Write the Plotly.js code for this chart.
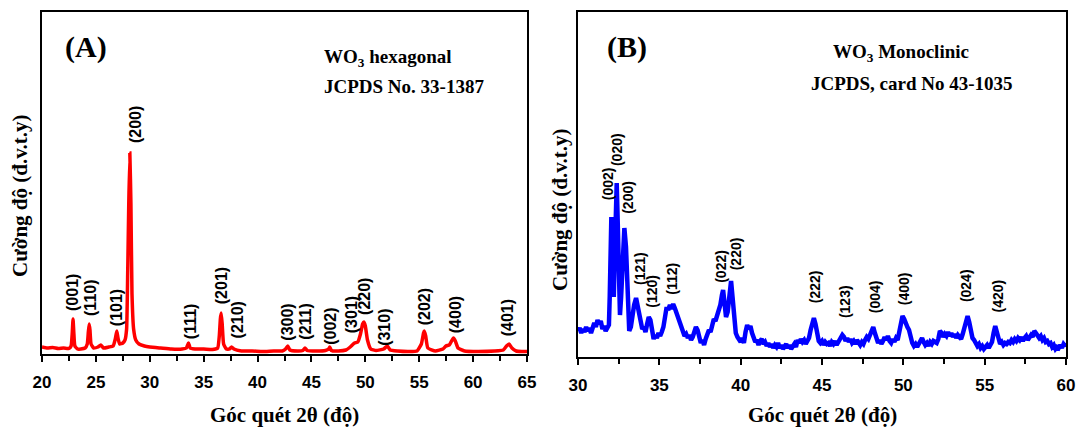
<!DOCTYPE html>
<html>
<head>
<meta charset="utf-8">
<script src="https://cdn.plot.ly/plotly-3.0.1.min.js"></script>
<style>html,body{margin:0;padding:0;background:#fff;}#chart{width:1081px;height:427px;}</style>
</head>
<body>
<div id="chart"></div>
<script>
// ---------- Panel A: WO3 hexagonal ----------
const twoThetaA = [20.0,20.5,21.0,21.5,22.0,22.5,22.7,22.8,22.88,22.95,23.05,23.3,23.6,24.0,24.2,24.3,24.38,24.45,24.55,24.8,25.2,25.45,25.7,26.2,26.6,26.8,26.94,27.05,27.2,27.5,27.7,27.85,27.95,28.05,28.15,28.25,28.35,28.5,28.7,29.0,29.5,30.0,31.0,32.0,33.0,33.4,33.59,33.75,34.2,35.0,35.8,36.3,36.45,36.55,36.63,36.72,36.85,37.1,37.4,37.59,37.8,38.5,39.5,40.5,41.5,42.3,42.6,42.8,43.0,43.7,44.2,44.4,44.6,45.5,46.3,46.6,46.7,46.85,47.5,48.2,48.6,49.0,49.3,49.55,49.75,49.87,50.0,50.2,50.5,51.0,51.7,52.04,52.3,53.0,54.0,54.8,55.2,55.4,55.47,55.6,55.8,56.5,57.2,57.48,57.8,58.0,58.18,58.35,58.6,59.2,60.5,62.0,62.8,63.1,63.33,63.6,64.0,64.5,65.0];
const intensityA = [7,6,6.5,5.5,6,5.5,8,20,35,22,8,5,5,6,10,22,30,24,10,6,7,9,6,7,8,15,23,16,10,11,14,25,80,150,201,150,60,25,14,10,8,7,6,5,5,6,11,6,5,5,4.5,6,18,35,41,30,10,5,5,7,5,3,3,2.5,3,3,5,8,4,3,3.5,6,3.5,3,3.5,5,7,3.5,3,4,7,11,12,20,30,32,28,14,5,3.5,5,8,4,3,2.5,3,10,21,23,18,6,3,5,8,9,13,16,13,6,3,2.5,3,4,8,10,6,3,2.5,2.5];
const hklA  = ["(001)","(110)","(101)","(200)","(111)","(201)","(210)","(300)","(211)","(002)","(301)","(220)","(310)","(202)","(400)","(401)"];
const hklAx = [22.78,24.45,26.88,28.63,33.75,36.63,38.13,42.7,44.37,46.7,48.69,49.87,51.72,55.47,58.34,63.17];
const hklAy = [62,56,46,229,33,68,34,32,32,28,39,58,27,47,39,36];

// ---------- Panel B: WO3 monoclinic ----------
const twoThetaB = [30.0,30.1,30.2,30.3,30.4,30.5,30.6,30.7,30.8,30.9,31.0,31.1,31.2,31.3,31.4,31.5,31.6,31.7,31.8,31.9,31.95,32.0,32.05,32.1,32.15,32.2,32.25,32.3,32.38,32.45,32.5,32.58,32.65,32.75,32.85,32.95,33.05,33.15,33.25,33.35,33.45,33.57,33.65,33.75,33.85,33.95,34.05,34.15,34.25,34.35,34.45,34.55,34.65,34.75,34.85,34.95,35.05,35.15,35.25,35.35,35.45,35.55,35.65,35.75,35.85,35.95,36.05,36.15,36.25,36.35,36.45,36.55,36.65,36.75,36.85,36.95,37.05,37.15,37.25,37.35,37.45,37.55,37.65,37.75,37.85,37.95,38.05,38.15,38.25,38.35,38.45,38.55,38.65,38.75,38.85,38.92,39.0,39.1,39.2,39.3,39.41,39.5,39.6,39.7,39.8,39.9,40.0,40.1,40.2,40.3,40.4,40.5,40.6,40.7,40.8,40.9,41.0,41.1,41.2,41.3,41.4,41.5,41.6,41.7,41.8,41.9,42.0,42.1,42.2,42.3,42.4,42.5,42.6,42.7,42.8,42.9,43.0,43.1,43.2,43.3,43.4,43.5,43.6,43.7,43.8,43.9,44.0,44.1,44.2,44.3,44.4,44.5,44.6,44.7,44.8,44.9,45.0,45.1,45.2,45.3,45.4,45.5,45.6,45.7,45.8,45.9,46.0,46.1,46.25,46.35,46.45,46.55,46.65,46.75,46.85,46.95,47.05,47.15,47.25,47.35,47.45,47.55,47.65,47.75,47.85,47.95,48.05,48.15,48.25,48.35,48.45,48.55,48.65,48.75,48.85,48.95,49.05,49.15,49.25,49.35,49.45,49.55,49.65,49.75,49.85,49.95,50.05,50.15,50.25,50.35,50.45,50.55,50.65,50.75,50.85,50.95,51.05,51.15,51.25,51.35,51.45,51.55,51.65,51.75,51.85,51.95,52.05,52.15,52.25,52.35,52.45,52.55,52.65,52.75,52.85,52.95,53.05,53.15,53.25,53.35,53.45,53.55,53.65,53.75,53.85,53.95,54.05,54.15,54.25,54.35,54.45,54.55,54.65,54.75,54.85,54.95,55.05,55.15,55.25,55.35,55.45,55.55,55.65,55.75,55.85,55.95,56.05,56.15,56.25,56.35,56.45,56.55,56.65,56.75,56.85,56.95,57.05,57.15,57.25,57.35,57.45,57.55,57.65,57.75,57.85,57.95,58.05,58.15,58.25,58.35,58.45,58.55,58.65,58.75,58.85,58.95,59.05,59.15,59.25,59.35,59.45,59.55,59.65,59.75,59.85,59.95,60.0];
const intensityB = [26,29,24,28,25,30,26,29,24,31,34,30,37,33,36,28,31,26,29,32,60,110,140,120,95,60,95,150,174,130,80,42,60,110,129,110,60,26,30,45,52,59,52,48,35,28,30,25,33,40,37,28,18,22,19,24,21,25,30,40,50,47,52,48,53,49,44,38,33,30,24,21,23,19,22,17,20,24,30,27,18,14,17,12,18,22,27,25,33,38,36,42,45,52,62,67,55,40,45,65,76,60,35,24,20,17,15,19,14,25,32,28,31,24,19,15,17,12,16,18,13,15,11,14,10,13,9,12,10,14,9,12,8,11,13,9,12,8,11,13,10,17,14,18,15,17,13,16,19,27,35,39,33,22,16,14,16,12,15,13,14,11,15,13,16,12,15,18,22,20,16,19,15,18,14,16,13,17,14,12,15,13,17,20,18,22,26,30,24,17,14,17,13,16,20,17,21,16,14,18,15,19,17,25,35,41,38,33,30,27,18,14,11,13,10,14,17,19,15,12,14,11,15,13,16,15,14,18,26,24,20,23,21,25,21,24,20,23,19,22,20,18,23,30,38,41,35,25,19,17,14,11,13,9,11,8,10,12,9,13,15,24,31,25,16,13,15,12,14,13,15,14,17,15,18,16,19,17,20,16,19,21,17,19,22,20,26,24,22,19,21,17,19,15,16,13,14,10,12,8,10,9,12,9,13,11,14];
const hklB  = ["(002)","(020)","(200)","(121)","(120)","(112)","(022)","(220)","(222)","(123)","(004)","(400)","(024)","(420)"];
const hklBx = [31.83,32.4,33.03,33.81,34.53,35.76,38.78,39.7,44.58,46.42,48.27,50.05,53.86,55.85];
const hklBy = [173.5,207,159.5,89,66,78,91,103.5,70,55,60,68,71,61];

// ---------- layout helpers (pixel -> paper) ----------
const W = 1081, H = 427;
const px = v => v / W;
const py = v => 1 - v / H;

const serif = "Liberation Serif, Times New Roman, serif";
const sans = "Liberation Sans, Arial, sans-serif";

const traces = [
  {x: twoThetaA, y: intensityA, type: 'scatter', mode: 'lines', xaxis: 'x', yaxis: 'y',
   line: {color: '#ff0000', width: 3.5, shape: 'spline', smoothing: 0.4}, hoverinfo: 'skip'},
  {x: twoThetaB, y: intensityB, type: 'scatter', mode: 'lines', xaxis: 'x2', yaxis: 'y2',
   line: {color: '#0000ff', width: 4.5}, hoverinfo: 'skip'}
];

function xAxis(domain, range, dtick, anchor) {
  return {
    domain: domain, range: range, anchor: anchor,
    showline: true, mirror: true, linecolor: '#000', linewidth: 2,
    ticks: 'outside', ticklen: 6, tickwidth: 2, tickcolor: '#000',
    dtick: dtick, tick0: range[0],
    minor: {dtick: dtick / 2, ticks: 'outside', ticklen: 5, tickwidth: 2, tickcolor: '#000'},
    showgrid: false, zeroline: false,
    tickfont: {family: sans, size: 17, color: '#000', weight: 'bold'},
    ticklabelstandoff: 6
  };
}
function yAxis(domain, range, anchor) {
  return {
    domain: domain, range: range, anchor: anchor,
    showline: true, mirror: true, linecolor: '#000', linewidth: 2,
    ticks: '', showticklabels: false, showgrid: false, zeroline: false
  };
}

const annotations = [];
function hkl(labels, xs, ys, xr, yr, size) {
  labels.forEach((t, i) => annotations.push({
    text: t, x: xs[i], y: ys[i], xref: xr, yref: yr, showarrow: false,
    textangle: -90, xanchor: 'center', yanchor: 'middle',
    font: {family: sans, size: size, color: '#000', weight: 'bold'}
  }));
}
hkl(hklA, hklAx, hklAy, 'x', 'y', 16);
hkl(hklB, hklBx, hklBy, 'x2', 'y2', 14);

function ptext(t, x, y, size, xanchor, angle) {
  annotations.push({
    text: t, x: px(x), y: py(y), xref: 'paper', yref: 'paper', showarrow: false,
    xanchor: xanchor || 'center', yanchor: 'middle', textangle: angle || 0,
    font: {family: serif, size: size, color: '#000', weight: 'bold'}
  });
}
ptext('(A)', 86, 47, 30);
ptext('WO<sub>3</sub> hexagonal', 322, 58, 19, 'left');
ptext('JCPDS No. 33-1387', 322, 86, 19, 'left');
ptext('(B)', 627, 47, 30);
ptext('WO<sub>3</sub> Monoclinic', 901, 53, 19);
ptext('JCPDS, card No 43-1035', 912, 83, 19);
ptext('Góc quét 2θ (độ)', 284.5, 415, 21);
ptext('Góc quét 2θ (độ)', 822, 415, 21);
ptext('Cường độ (đ.v.t.y)', 20, 196, 21, 'center', -90);
ptext('Cường độ (đ.v.t.y)', 560, 210, 21, 'center', -90);

const layout = {
  width: W, height: H,
  margin: {l: 0, r: 0, t: 0, b: 0},
  paper_bgcolor: '#fff', plot_bgcolor: '#fff',
  showlegend: false,
  xaxis: xAxis([px(42), px(527)], [20, 65], 5, 'y'),
  yaxis: yAxis([py(354), py(12)], [0, 342], 'x'),
  xaxis2: xAxis([px(578), px(1066)], [30, 60], 5, 'y2'),
  yaxis2: yAxis([py(357), py(12)], [0, 345], 'x2'),
  annotations: annotations
};

Plotly.newPlot('chart', traces, layout, {staticPlot: true, displayModeBar: false});
</script>
</body>
</html>
